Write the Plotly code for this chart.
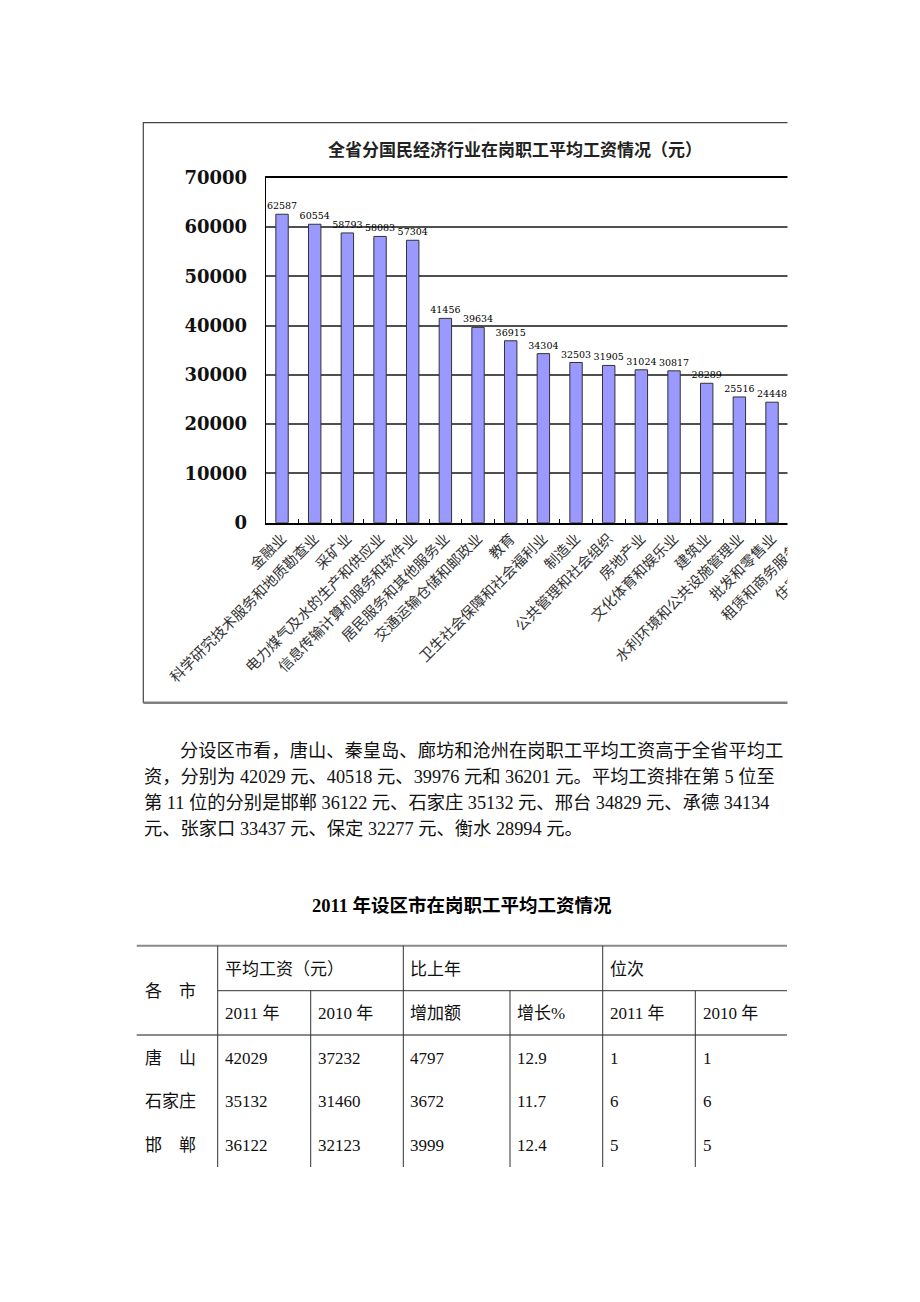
import plotly.graph_objects as go

# ---------------- data ----------------
industries = [
    "金融业", "科学研究技术服务和地质勘查业", "采矿业", "电力煤气及水的生产和供应业",
    "信息传输计算机服务和软件业", "居民服务和其他服务业", "交通运输仓储和邮政业", "教育",
    "卫生社会保障和社会福利业", "制造业", "公共管理和社会组织", "房地产业",
    "文化体育和娱乐业", "建筑业", "水利环境和公共设施管理业", "批发和零售业",
    "租赁和商务服务业", "住宿和餐饮业",
]
avg_wage = [62587, 60554, 58793, 58083, 57304, 41456, 39634, 36915, 34304,
            32503, 31905, 31024, 30817, 28289, 25516, 24448, None, None]
y_ticks = [0, 10000, 20000, 30000, 40000, 50000, 60000, 70000]

chart_title = "全省分国民经济行业在岗职工平均工资情况（元）"
paragraph_lines = [
    "分设区市看，唐山、秦皇岛、廊坊和沧州在岗职工平均工资高于全省平均工",
    "资，分别为 42029 元、40518 元、39976 元和 36201 元。平均工资排在第 5 位至",
    "第 11 位的分别是邯郸 36122 元、石家庄 35132 元、邢台 34829 元、承德 34134",
    "元、张家口 33437 元、保定 32277 元、衡水 28994 元。",
]

table_title = "2011 年设区市在岗职工平均工资情况"
table_group_headers = ["平均工资（元）", "比上年", "位次"]
table_sub_headers = ["2011 年", "2010 年", "增加额", "增长%", "2011 年", "2010 年"]
cities = ["唐　山", "石家庄", "邯　郸"]
wage_2011 = [42029, 35132, 36122]
wage_2010 = [37232, 31460, 32123]
increase = [4797, 3672, 3999]
growth_pct = [12.9, 11.7, 12.4]
rank_2011 = [1, 6, 5]
rank_2010 = [1, 6, 5]

# ---------------- geometry helpers ----------------
W, H = 920, 1302


def X(p):
    return p / W


def Y(p):
    return 1 - p / H


CJK = "Noto Sans CJK SC"
SERIF_CJK = "Liberation Serif, Noto Sans CJK SC"

fig = go.Figure()

fig.add_trace(go.Bar(
    x=industries,
    y=avg_wage,
    width=0.38,
    marker=dict(color="#9999FF", line=dict(color="#333333", width=1)),
    text=["" if v is None else str(v) for v in avg_wage],
    textposition="outside",
    constraintext="none",
    cliponaxis=False,
    textangle=0,
    textfont=dict(family="DejaVu Serif", size=9.5, color="#000000"),
    hoverinfo="skip",
))

plot_left, plot_right = 265.7, 853.7
plot_top, plot_bottom = 177.7, 522.7

fig.update_layout(
    width=W, height=H, autosize=False,
    margin=dict(l=0, r=0, t=0, b=0, pad=0, autoexpand=False),
    paper_bgcolor="white", plot_bgcolor="white",
    showlegend=False,
    xaxis=dict(
        domain=[X(plot_left), X(plot_right)],
        type="category",
        range=[-0.5, 17.5],
        tickmode="linear", dtick=1,
        tickangle=-45,
        tickfont=dict(family=CJK, size=14.5, color="#333333"),
        ticks="inside", ticklen=4, tickcolor="#000000", tickwidth=1,
        tickson="boundaries",
        showline=True, linecolor="#000000", linewidth=1.5, mirror=True,
        showgrid=False, zeroline=False,
        automargin=False,
        fixedrange=True,
    ),
    yaxis=dict(
        domain=[Y(plot_bottom), Y(plot_top)],
        range=[0, 70000],
        tickmode="array", tickvals=y_ticks, ticktext=[str(v) for v in y_ticks],
        tickfont=dict(family="DejaVu Serif", size=18, color="#111111", weight="bold"),
        ticks="", ticklabelstandoff=14,
        showline=True, linecolor="#000000", linewidth=1.2, mirror=True,
        showgrid=True, gridcolor="#505050", gridwidth=1.5,
        zeroline=False,
        automargin=False,
        fixedrange=True,
    ),
)

shapes = []
# outer chart frame
shapes.append(dict(type="rect", xref="paper", yref="paper", layer="below",
                   x0=X(143.3), x1=X(900), y0=Y(702.5), y1=Y(122.7),
                   line=dict(color="#444444", width=1.2), fillcolor="rgba(0,0,0,0)"))
shapes.append(dict(type="line", xref="paper", yref="paper", layer="below",
                   x0=X(143.3), x1=X(900), y0=Y(702.8), y1=Y(702.8),
                   line=dict(color="#808080", width=2.5)))
# crop cover on the right side of the chart
shapes.append(dict(type="rect", xref="paper", yref="paper", layer="above",
                   x0=X(787.5), x1=1, y0=Y(725), y1=Y(100),
                   line=dict(width=0), fillcolor="white"))

# table lines
tbl_right = 787
thick = dict(color="#8a8a8a", width=2)
thin = dict(color="#333333", width=1)
shapes.append(dict(type="line", xref="paper", yref="paper", x0=X(136.7), x1=X(tbl_right),
                   y0=Y(945.7), y1=Y(945.7), line=thick))
shapes.append(dict(type="line", xref="paper", yref="paper", x0=X(217.7), x1=X(tbl_right),
                   y0=Y(990.7), y1=Y(990.7), line=thin))
shapes.append(dict(type="line", xref="paper", yref="paper", x0=X(136.7), x1=X(tbl_right),
                   y0=Y(1035), y1=Y(1035), line=thick))
for vx, top in [(217.7, 945.7), (310.7, 990.7), (403.3, 945.7),
                (510.0, 990.7), (602.7, 945.7), (695.3, 990.7)]:
    shapes.append(dict(type="line", xref="paper", yref="paper", x0=X(vx), x1=X(vx),
                       y0=Y(top), y1=Y(1167), line=thin))
fig.update_layout(shapes=shapes)

annotations = []


def text(t, x, y, size, family=SERIF_CJK, xanchor="left", weight="normal", color="#111111"):
    annotations.append(dict(text=t, x=X(x), y=Y(y), xref="paper", yref="paper",
                            xanchor=xanchor, yanchor="middle", showarrow=False,
                            font=dict(family=family, size=size, color=color, weight=weight)))


# chart title
text(chart_title, 515, 148, 17, family=CJK, xanchor="center", weight="bold", color="#222222")

# paragraph
para_x = [178, 142, 142, 142]
para_y = [751, 777, 803, 829]
for t, x, y in zip(paragraph_lines, para_x, para_y):
    text(t, x, y, 18.3)

# table title
text(table_title, 462, 905, 18.5, xanchor="center", weight="bold", color="#000000")

# table headers
text("各　市", 143, 991, 17)
for t, x in zip(table_group_headers, [222.7, 408, 608]):
    text(t, x, 969, 17)
col_x = [222.7, 315.7, 408, 515, 608, 700.7]
for t, x in zip(table_sub_headers, col_x):
    text(t, x, 1013, 17)

row_y = [1058, 1101.7, 1145]
for i, y in enumerate(row_y):
    text(cities[i], 143, y, 17)
    vals = [str(wage_2011[i]), str(wage_2010[i]), str(increase[i]),
            f"{growth_pct[i]:.1f}", str(rank_2011[i]), str(rank_2010[i])]
    for v, x in zip(vals, col_x):
        text(v, x, y, 17)

fig.update_layout(annotations=annotations)

fig.write_html("out.html", config={"displayModeBar": False},
               post_script="document.body.style.margin='0';document.body.style.overflow='hidden';")
